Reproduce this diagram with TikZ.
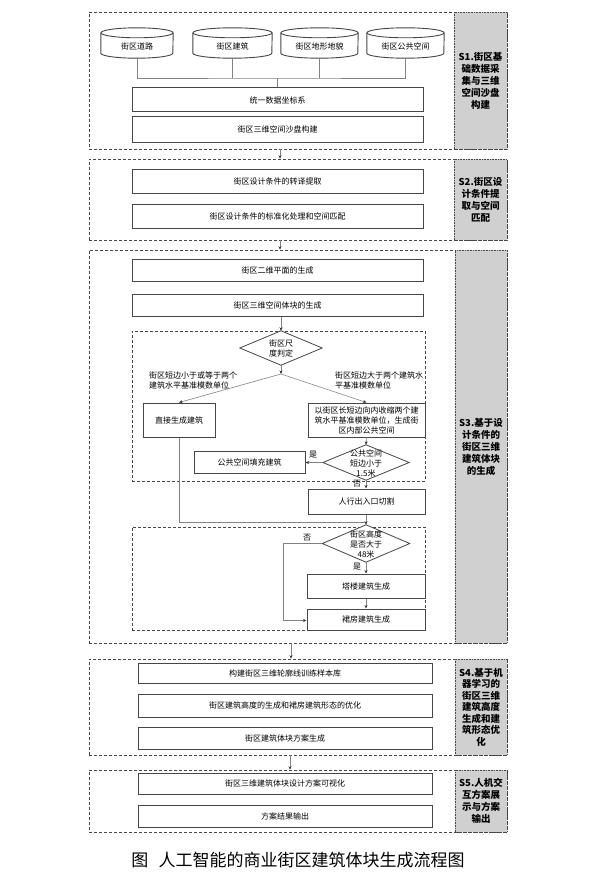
\documentclass[tikz,border=0pt]{standalone}
\usepackage{fontspec}
\setmainfont{Noto Sans CJK SC}
\usetikzlibrary{arrows.meta,calc}
\definecolor{lblgray}{RGB}{208,208,208}
\definecolor{edge}{RGB}{70,70,70}
\definecolor{lnk}{RGB}{130,130,130}
\tikzset{
  frame/.style={draw=edge, densely dashed, line width=0.6pt, inner sep=0pt},
  lbl/.style={draw=edge, densely dotted, line width=0.6pt, fill=lblgray, inner sep=0pt,
    font=\bfseries\fontsize{9.5}{12}\selectfont, align=center},
  box/.style={draw=edge, line width=1pt, fill=white, inner sep=0pt,
    font=\fontsize{8}{10.5}\selectfont, align=center},
  dia/.style={inner sep=0pt, font=\fontsize{8}{10}\selectfont, align=center},
  diaedge/.style={draw=edge, line width=0.8pt, fill=white},
  cyl/.style={inner sep=0pt, font=\fontsize{8}{10}\selectfont, minimum height=30pt},
  cyledge/.style={draw=edge, line width=0.9pt},
  conn/.style={draw=lnk, line width=0.6pt},
  arr/.style={conn, -{Stealth[length=3.5pt,width=3pt,color=black!80]}},
  note/.style={inner sep=0pt, font=\fontsize{8}{10}\selectfont, align=left},
}
\newcommand{\mydia}[1]{\draw[diaedge] (#1.north) -- (#1.east) -- (#1.south) -- (#1.west) -- cycle;}
\newcommand{\mycyl}[2]{%
  \draw[cyledge, fill=white] ([yshift=-5pt]#1.north west) -- ([yshift=5pt]#1.south west)
     arc[start angle=180, end angle=360, x radius=#2, y radius=5pt] -- ([yshift=-5pt]#1.north east);
  \draw[cyledge, fill=white] ([yshift=-5pt]#1.north) ellipse [x radius=#2, y radius=5pt];}
\begin{document}
\begin{tikzpicture}[x=1pt,y=1pt]
\useasboundingbox (0,0) rectangle (610,-880);
\fill[white] (0,0) rectangle (610,-880);

% ---------- S1 ----------
\node[frame, minimum width=418pt, minimum height=137pt] (s1) at (298,-80.5) {};
\node[lbl, minimum width=53pt, minimum height=137pt] (l1) at (480.5,-80.5) {S1.街区基\\础数据采\\集与三维\\空间沙盘\\构建};
\node[cyl, minimum width=72pt] (c1) at (137,-43) {};
\node[cyl, minimum width=79pt] (c2) at (232.5,-43) {};
\node[cyl, minimum width=77pt] (c3) at (319.5,-43) {};
\node[cyl, minimum width=77pt] (c4) at (405.5,-43) {};
\mycyl{c1}{36pt}\mycyl{c2}{39.5pt}\mycyl{c3}{38.5pt}\mycyl{c4}{38.5pt}
\node[cyl] at ([yshift=-3pt]c1.center) {街区道路};
\node[cyl] at ([yshift=-3pt]c2.center) {街区建筑};
\node[cyl] at ([yshift=-3pt]c3.center) {街区地形地貌};
\node[cyl] at ([yshift=-3pt]c4.center) {街区公共空间};
\node[box, minimum width=291pt, minimum height=24pt] (b1) at (277.5,-100) {统一数据坐标系};
\node[box, minimum width=291pt, minimum height=25pt] (b2) at (277.5,-129.5) {街区三维空间沙盘构建};
\coordinate (hub) at (b1.north |- 0,-78);
\draw[conn] (c1.south) |- (hub) -| (c4.south);
\draw[conn] (c2.south) -- (c2.south |- hub);
\draw[conn] (c3.south) -- (c3.south |- hub);
\draw[conn] (hub) -- (b1.north);

% ---------- S2 ----------
\node[frame, minimum width=418pt, minimum height=81pt] (s2) at (298,-199.5) {};
\node[lbl, minimum width=53pt, minimum height=81pt] (l2) at (480.5,-199.5) {S2.街区设\\计条件提\\取与空间\\匹配};
\node[box, minimum width=291pt, minimum height=24pt] (b3) at (277.5,-181) {街区设计条件的转译提取};
\node[box, minimum width=291pt, minimum height=24pt] (b4) at (277.5,-216) {街区设计条件的标准化处理和空间匹配};
\draw[arr] ([xshift=-18pt]s1.south) -- ([xshift=-18pt]s2.north);

% ---------- S3 ----------
\node[frame, minimum width=418pt, minimum height=393pt] (s3) at (298,-446.5) {};
\node[lbl, minimum width=52pt, minimum height=393pt] (l3) at (481,-446.5) {S3.基于设\\计条件的\\街区三维\\建筑体块\\的生成};
\draw[arr] ([xshift=-18pt]s2.south) -- ([xshift=-18pt]s3.north);
\node[box, minimum width=291pt, minimum height=22pt] (b5) at (277.5,-270) {街区二维平面的生成};
\node[box, minimum width=291pt, minimum height=22pt] (b6) at (277.5,-305) {街区三维空间体块的生成};
\node[frame, minimum width=293pt, minimum height=150pt] (i1) at (278.5,-406) {};
\node[dia, minimum width=82pt, minimum height=34pt] (d1) at (281,-348) {};
\mydia{d1}
\node[dia] at (d1.center) {街区尺\\度判定};
\draw[arr] (d1.north |- b6.south) -- (d1.north);
\coordinate (sp) at (281,-374);
\draw[arr] (d1.south) -- (sp);
\node[box, minimum width=72pt, minimum height=34pt] (dir) at (179,-420) {直接生成建筑};
\node[box, minimum width=117pt, minimum height=34pt, font=\fontsize{8}{10}\selectfont] (shr) at (366.5,-420) {以街区长短边向内收缩两个建\\筑水平基准模数单位，生成街\\区内部公共空间};
\draw[arr] (sp) -- (dir.north);
\draw[arr] (sp) -- (shr.north);
\node[note] (n1) at (193,-380) {街区短边小于或等于两个\\建筑水平基准模数单位};
\node[note] (n2) at (379,-380) {街区短边大于两个建筑水\\平基准模数单位};
\node[dia, minimum width=86pt, minimum height=35pt] (d2) at (366,-462.5) {};
\mydia{d2}
\node[dia] at ([yshift=-1pt]d2.center) {公共空间\\短边小于\\1.5米};
\draw[arr] (shr.south) -- (d2.north);
\node[box, minimum width=111pt, minimum height=22pt] (fil) at (249.5,-462) {公共空间填充建筑};
\draw[arr] (d2.west) -- (fil.east |- d2.west);
\node[note] (y1) at (313,-455) {是};
\node[box, minimum width=117pt, minimum height=25pt] (ped) at (366.5,-501.5) {人行出入口切割};
\draw[arr] (d2.south) -- (d2.south |- ped.north);
\node[note] (no1) at (357,-484) {否};
\node[frame, minimum width=293pt, minimum height=103pt] (i2) at (278.5,-578.5) {};
\node[dia, minimum width=87pt, minimum height=37pt] (d3) at (366,-543.5) {};
\mydia{d3}
\node[dia] at ([yshift=-1pt]d3.center) {街区高度\\是否大于\\48米};
\coordinate (mg) at (366,-522);
\draw[conn] (dir.south) |- (mg);
\draw[arr] (d3.north |- ped.south) -- (d3.north);
\node[box, minimum width=118pt, minimum height=24pt] (tow) at (366,-586) {塔楼建筑生成};
\node[box, minimum width=118pt, minimum height=21pt] (pod) at (366,-619.5) {裙房建筑生成};
\draw[arr] (d3.south) -- (tow.north);
\draw[arr] (tow.south) -- (pod.north);
\draw[arr] (d3.west) -- ++(-39,0) |- ([yshift=-1pt]pod.west);
\node[note] (no2) at (307,-538) {否};
\node[note] (y2) at (357,-567) {是};

% ---------- S4 ----------
\node[frame, minimum width=418pt, minimum height=96pt] (s4) at (298,-707) {};
\node[lbl, minimum width=52pt, minimum height=96pt, font=\bfseries\fontsize{9.5}{11.5}\selectfont] (l4) at (481,-707) {S4.基于机\\器学习的\\街区三维\\建筑高度\\生成和建\\筑形态优\\化};
\draw[arr] ([xshift=-7pt]s3.south) -- ([xshift=-7pt]s4.north);
\node[box, minimum width=294pt, minimum height=20pt] (b7) at (285,-673) {构建街区三维轮廓线训练样本库};
\node[box, minimum width=294pt, minimum height=23pt] (b8) at (285,-705.5) {街区建筑高度的生成和裙房建筑形态的优化};
\node[box, minimum width=294pt, minimum height=22pt] (b9) at (285,-738) {街区建筑体块方案生成};

% ---------- S5 ----------
\node[frame, minimum width=418pt, minimum height=62pt] (s5) at (298,-801) {};
\node[lbl, minimum width=52pt, minimum height=62pt] (l5) at (481,-801) {S5.人机交\\互方案展\\示与方案\\输出};
\draw[arr] ([xshift=-8pt]s4.south) -- ([xshift=-8pt]s5.north);
\node[box, minimum width=294pt, minimum height=21pt] (b10) at (285,-783.5) {街区三维建筑体块设计方案可视化};
\node[box, minimum width=294pt, minimum height=22pt] (b11) at (285,-816) {方案结果输出};

% ---------- caption ----------
\node[inner sep=0pt, font=\fontsize{17}{20}\selectfont] (cap) at (298,-860) {图\hspace{0.6em}人工智能的商业街区建筑体块生成流程图};
\end{tikzpicture}
\end{document}
